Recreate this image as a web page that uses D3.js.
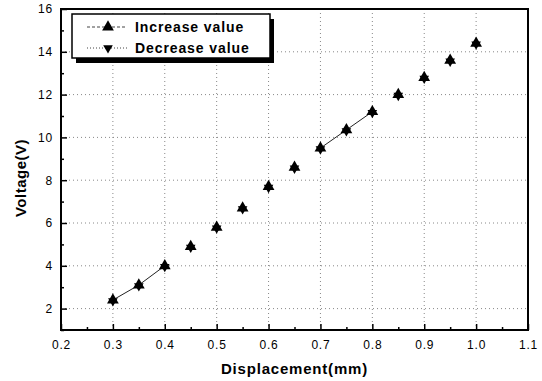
<!DOCTYPE html>
<html>
<head>
<meta charset="utf-8">
<script src="https://cdn.jsdelivr.net/npm/d3@7"></script>
<style>
  body { margin: 0; background: #fff; }
  svg { display: block; font-family: "Liberation Sans", Arial, sans-serif; }
</style>
</head>
<body>
<svg width="542" height="381"></svg>
<script>
// Datos
var displacement = [0.3, 0.35, 0.4, 0.45, 0.5, 0.55, 0.6, 0.65, 0.7, 0.75, 0.8, 0.85, 0.9, 0.95, 1.0];
var increaseValue = [2.4, 3.1, 4.0, 4.9, 5.8, 6.7, 7.7, 8.6, 9.5, 10.35, 11.2, 12.0, 12.8, 13.6, 14.4];
var decreaseValue = [2.4, 3.1, 4.0, 4.9, 5.8, 6.7, 7.7, 8.6, 9.5, 10.35, 11.2, 12.0, 12.8, 13.6, 14.4];
var xTicks = [0.2, 0.3, 0.4, 0.5, 0.6, 0.7, 0.8, 0.9, 1.0, 1.1];
var yTicks = [2, 4, 6, 8, 10, 12, 14, 16];
var seriesNames = ["Increase value", "Decrease value"];

var margin = { top: 9, right: 14, bottom: 51, left: 61 },
  width = 542 - margin.left - margin.right,
  height = 381 - margin.top - margin.bottom;

var svg = d3.select("svg");
var g = svg.append("g").attr("transform", "translate(" + margin.left + "," + margin.top + ")");

// Escalas
var x = d3.scaleLinear().domain([0.2, 1.1]).range([0, width]);
var y = d3.scaleLinear().domain([1, 16]).range([height, 0]);

// Grilla
g.append("g").selectAll("line").data(xTicks.slice(1, -1)).enter().append("line")
  .attr("x1", function (d) { return x(d); }).attr("x2", function (d) { return x(d); })
  .attr("y1", 0).attr("y2", height)
  .attr("stroke", "#888").attr("stroke-width", 1).attr("stroke-dasharray", "1,3");
g.append("g").selectAll("line").data(yTicks.slice(0, -1)).enter().append("line")
  .attr("y1", function (d) { return y(d); }).attr("y2", function (d) { return y(d); })
  .attr("x1", 0).attr("x2", width)
  .attr("stroke", "#888").attr("stroke-width", 1).attr("stroke-dasharray", "1,3");

// Ejes
var xAxis = d3.axisBottom(x).tickValues(xTicks).tickSize(-6).tickPadding(10).tickFormat(d3.format(".1f"));
var xMinor = d3.axisBottom(x).tickValues(d3.range(0.25, 1.1, 0.1)).tickSize(-3).tickFormat("");
var yAxis = d3.axisLeft(y).tickValues(yTicks).tickSize(-6).tickPadding(8).tickFormat(d3.format("d"));
var yMinor = d3.axisLeft(y).tickValues(d3.range(1, 16, 2)).tickSize(-3).tickFormat("");

function styleAxis(sel) {
  sel.select(".domain").remove();
  sel.selectAll("line").attr("stroke", "#000").attr("stroke-width", 1.5);
  sel.selectAll("text").attr("fill", "#000").style("font-size", "12px").style("letter-spacing", "0.8px");
}
g.append("g").attr("transform", "translate(0," + height + ")").call(xAxis).call(styleAxis);
g.append("g").attr("transform", "translate(0," + height + ")").call(xMinor).call(styleAxis);
g.append("g").call(yAxis).call(styleAxis);
g.append("g").call(yMinor).call(styleAxis);

// Marco
g.append("rect").attr("width", width).attr("height", height)
  .attr("fill", "none").attr("stroke", "#000").attr("stroke-width", 2);

// Lineas (solo tramos visibles)
var pts = displacement.map(function (d, i) { return { x: d, y: increaseValue[i] }; });
var line = d3.line().x(function (d) { return x(d.x); }).y(function (d) { return y(d.y); });
[pts.slice(0, 3), pts.slice(8, 11)].forEach(function (seg) {
  g.append("path").attr("d", line(seg)).attr("fill", "none").attr("stroke", "#222").attr("stroke-width", 1);
});

// Marcadores
var up = d3.symbol().type(d3.symbolTriangle).size(60);
var down = d3.symbol().type(d3.symbolTriangle).size(40);
g.selectAll(".dec").data(decreaseValue).enter().append("path")
  .attr("d", down)
  .attr("transform", function (d, i) { return "translate(" + x(displacement[i]) + "," + (y(d) + 1) + ") rotate(180)"; })
  .attr("fill", "#000");
g.selectAll(".inc").data(increaseValue).enter().append("path")
  .attr("d", up)
  .attr("transform", function (d, i) { return "translate(" + x(displacement[i]) + "," + y(d) + ")"; })
  .attr("fill", "#000");

// Leyenda
var lg = g.append("g").attr("transform", "translate(11,5)");
lg.append("rect").attr("x", 4).attr("y", 5).attr("width", 198).attr("height", 44).attr("fill", "#000");
lg.append("rect").attr("width", 198).attr("height", 44).attr("fill", "#fff").attr("stroke", "#000").attr("stroke-width", 1.5);
seriesNames.forEach(function (name, i) {
  var cy = 13 + i * 21;
  lg.append("line").attr("x1", 15).attr("x2", 55).attr("y1", cy).attr("y2", cy)
    .attr("stroke", "#444").attr("stroke-width", 1).attr("stroke-dasharray", i ? "1,2" : "3,2");
  lg.append("path").attr("d", i ? down : up)
    .attr("transform", "translate(36," + cy + ")" + (i ? " rotate(180)" : ""))
    .attr("fill", "#000");
  lg.append("text").attr("x", 63).attr("y", cy).attr("dy", "0.35em")
    .style("font-size", "14px").style("font-weight", "bold").style("letter-spacing", "0.9px").text(name);
});

// Titulos
svg.append("text").attr("x", margin.left + width / 2).attr("y", 374)
  .attr("text-anchor", "middle").style("font-size", "15px").style("font-weight", "bold")
  .style("letter-spacing", "0.8px").text("Displacement(mm)");
svg.append("text").attr("transform", "translate(26,178) rotate(-90)")
  .attr("text-anchor", "middle").style("font-size", "15px").style("font-weight", "bold")
  .style("letter-spacing", "0.5px").text("Voltage(V)");
</script>
</body>
</html>
